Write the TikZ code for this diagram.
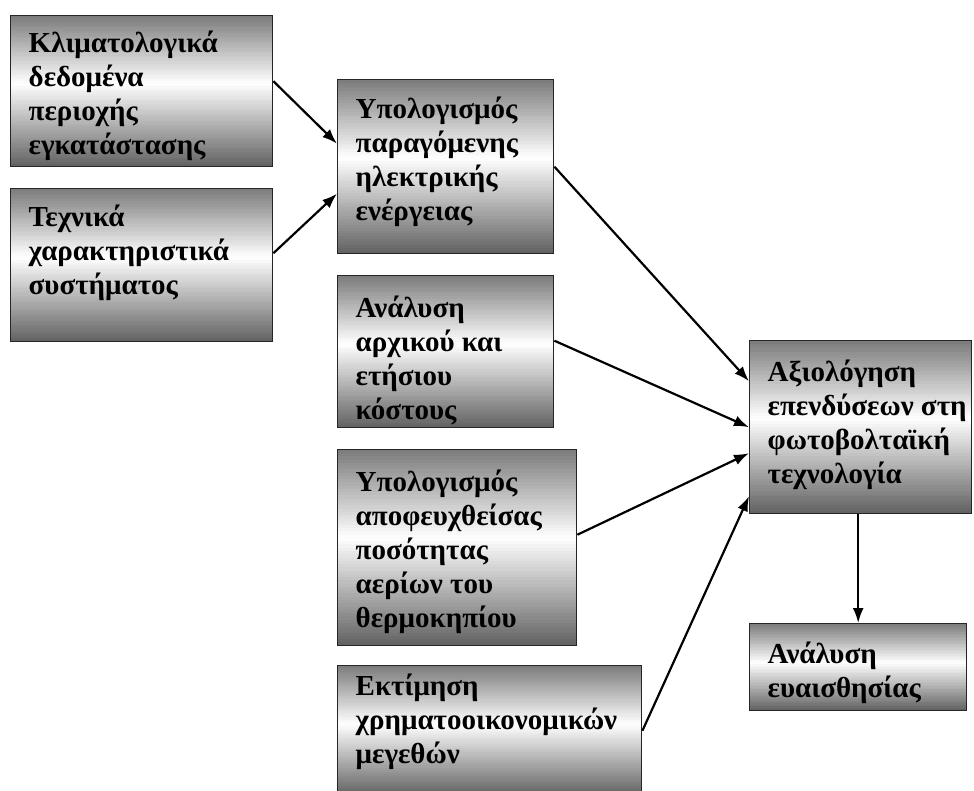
\documentclass[tikz,border=0pt]{standalone}
\usepackage{fontspec}
\setmainfont{Liberation Serif}
\usetikzlibrary{arrows.meta}
\usetikzlibrary{calc}

\newcommand{\boxtxt}[4]{\parbox[c][#2][t]{#1}{\leftskip=18pt\rightskip=0pt plus 1fil\vspace*{#3}#4}}

\begin{document}
\begin{tikzpicture}[x=1pt,y=-1pt,
    panel/.style={draw=black!85, line width=1.4pt, anchor=north west, inner sep=0pt,
      font=\bfseries\fontsize{29}{34}\selectfont,
      path picture={
        \foreach \i in {0,...,59}{
          \pgfmathsetmacro\ta{\i/60}
          \pgfmathsetmacro\tb{(\i+1.5)/60}
          \pgfmathsetmacro\tm{(\i+0.5)/60}
          \pgfmathsetmacro\w{\tm<0.45 ? 48+52*\tm/0.45 : 100-62*(\tm-0.45)/0.55}
          \fill[white!\w!black]
            ($(path picture bounding box.north west)!\ta!(path picture bounding box.south west)$)
            rectangle ($(path picture bounding box.north east)!\tb!(path picture bounding box.south east)$);
        }}},
    link/.style={line width=2.2pt, -{Latex[length=15pt,width=11pt]}}]
    \useasboundingbox (0,0) rectangle (974,790);
    \clip (0,0) rectangle (974,790);
    \begin{scope}[every node/.style={panel}]
    \node (klima)   at ( 10, 15) {\boxtxt{262pt}{151pt}{15pt}{Κλιματολογικά\\ δεδομένα\\ περιοχής\\ εγκατάστασης}};
    \node (tech)    at ( 10,188) {\boxtxt{262pt}{153pt}{16pt}{Τεχνικά\\ χαρακτηριστικά\\ συστήματος}};
    \node (ypol)    at (337, 79) {\boxtxt{216pt}{174pt}{17pt}{Υπολογισμός\\ παραγόμενης\\ ηλεκτρικής\\ ενέργειας}};
    \node (kostos)  at (337,275) {\boxtxt{216pt}{152pt}{20pt}{Ανάλυση\\ αρχικού και\\ ετήσιου\\ κόστους}};
    \node (aeria)   at (337,449) {\boxtxt{239pt}{196pt}{20pt}{Υπολογισμός\\ αποφευχθείσας\\ ποσότητας\\ αερίων του\\ θερμοκηπίου}};
    \node (ektim)   at (337,665) {\boxtxt{304pt}{130pt}{8pt}{Εκτίμηση\\ χρηματοοικονομικών\\ μεγεθών}};
    \node (axiol)   at (749,340) {\boxtxt{222pt}{173pt}{19pt}{Αξιολόγηση\\ επενδύσεων στη\\ φωτοβολταϊκή\\ τεχνολογία}};
    \node (euais)   at (749,623) {\boxtxt{217pt}{87pt}{18pt}{Ανάλυση\\ ευαισθησίας}};
    \end{scope}
    % connectors
    \draw[link] ([yshift=10pt]klima.east) -- ([yshift=23pt]ypol.west);
    \draw[link] ([yshift=12pt]tech.east) -- ([yshift=-27pt]ypol.west);
    \draw[link] (ypol.east) -- ([yshift=46pt]axiol.west);
    \draw[link] ([yshift=11pt]kostos.east) -- (axiol.west);
    \draw[link] ([yshift=13pt]aeria.east) -- ([yshift=-26pt]axiol.west);
    \draw[link] (ektim.east) -- ([yshift=-69pt]axiol.west);
    \draw[link] (axiol.south -| euais.north) -- (euais.north);
\end{tikzpicture}
\end{document}
